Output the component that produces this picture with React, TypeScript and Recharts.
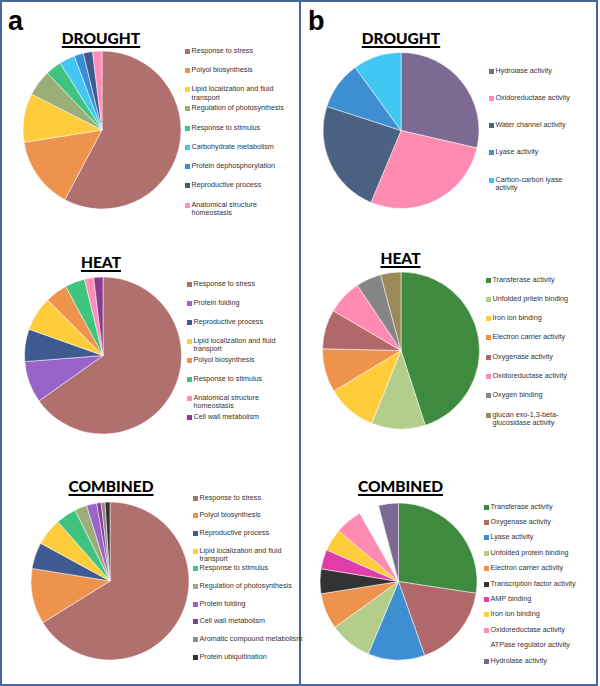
import { PieChart, Pie, Cell } from 'recharts';

// panel a: biological process
const droughtALabels = [
  'Response to stress',
  'Polyol biosynthesis',
  'Lipid localization and fluid transport',
  'Regulation of photosynthesis',
  'Response to stimulus',
  'Carbohydrate metabolism',
  'Protein dephosphorylation',
  'Reproductive process',
  'Anatomical structure homeostasis',
];
const droughtAValues = [57.8, 14.7, 10, 5.3, 3.3, 3.2, 1.9, 1.9, 1.9];

const heatALabels = [
  'Response to stress',
  'Protein folding',
  'Reproductive process',
  'Lipid localization and fluid transport',
  'Polyol biosynthesis',
  'Response to stimulus',
  'Anatomical structure homeostasis',
  'Cell wall metabolism',
];
const heatAValues = [65.3, 8.6, 6.7, 7.1, 4.6, 4.1, 1.9, 1.9];

const combinedALabels = [
  'Response to stress',
  'Polyol biosynthesis',
  'Reproductive process',
  'Lipid localization and fluid transport',
  'Response to stimulus',
  'Regulation of photosynthesis',
  'Protein folding',
  'Cell wall metabolism',
  'Aromatic compound metabolism',
  'Protein ubiquitination',
];
const combinedAValues = [66.3, 11.4, 5.4, 5.6, 4.2, 2.5, 2.1, 0.9, 0.8, 1.0];

// panel b: molecular function
const droughtBLabels = [
  'Hydrolase activity',
  'Oxidoreductase activity',
  'Water channel activity',
  'Lyase activity',
  'Carbon-carbon lyase activity',
];
const droughtBValues = [28.6, 27.7, 23.7, 10, 10];

const heatBLabels = [
  'Transferase activity',
  'Unfolded pritein binding',
  'Iron ion binding',
  'Electron carrier activity',
  'Oxygenase activity',
  'Oxidoreductase activity',
  'Oxygen binding',
  'glucan exo-1,3-beta-glucosidase activity',
];
const heatBValues = [45.1, 11.1, 10.3, 9.0, 8.1, 7.2, 5.2, 4.2];

const combinedBLabels = [
  'Transferase activity',
  'Oxygenase activity',
  'Lyase activity',
  'Unfolded protein binding',
  'Electron carrier activity',
  'Transcription factor activity',
  'AMP binding',
  'Iron ion binding',
  'Oxidoreductase activity',
  'ATPase regulator activity',
  'Hydrolase activity',
];
const combinedBValues = [27.4, 17.2, 11.7, 8.8, 7.4, 5.1, 4.0, 4.6, 5.6, 4.1, 4.1];

const colors: Record<string, string> = {
  'Response to stress': '#b0706e',
  'Polyol biosynthesis': '#ee934d',
  'Lipid localization and fluid transport': '#ffcd3c',
  'Regulation of photosynthesis': '#9cae78',
  'Response to stimulus': '#3ec47e',
  'Carbohydrate metabolism': '#42c6f2',
  'Protein dephosphorylation': '#3b8ed4',
  'Reproductive process': '#3e5a8e',
  'Anatomical structure homeostasis': '#ff8dba',
  'Protein folding': '#9a63c8',
  'Cell wall metabolism': '#8a3b8e',
  'Aromatic compound metabolism': '#8c8c8c',
  'Protein ubiquitination': '#333333',
  'Hydrolase activity': '#7c6a92',
  'Oxidoreductase activity': '#ff8bb0',
  'Water channel activity': '#4b6182',
  'Lyase activity': '#3d8fd2',
  'Carbon-carbon lyase activity': '#42c6f2',
  'Transferase activity': '#3e8a3f',
  'Unfolded pritein binding': '#b3ce8a',
  'Unfolded protein binding': '#b3ce8a',
  'Iron ion binding': '#ffcc3c',
  'Electron carrier activity': '#ee934d',
  'Oxygenase activity': '#b0686a',
  'Oxygen binding': '#858585',
  'glucan exo-1,3-beta-glucosidase activity': '#9a8a5a',
  'Transcription factor activity': '#333333',
  'AMP binding': '#e03daa',
  'ATPase regulator activity': '#ffffff',
};

const toRows = (labels: string[], values: number[]) =>
  labels.map((name, i) => ({ name, value: values[i], fill: colors[name] }));

const panels = [
  { key: 'dA', title: 'DROUGHT', labels: droughtALabels, values: droughtAValues, cx: 102, cy: 130, r: 79, tx: 101, ty: 31, lx: 185, ly: 51, pitch: 19.25, lw: 102 },
  { key: 'hA', title: 'HEAT', labels: heatALabels, values: heatAValues, cx: 103, cy: 355.5, r: 78.5, tx: 101, ty: 255, lx: 187, ly: 284, pitch: 19, lw: 102 },
  { key: 'cA', title: 'COMBINED', labels: combinedALabels, values: combinedAValues, cx: 110, cy: 581, r: 79, tx: 111, ty: 479, lx: 193, ly: 498, pitch: 17.67, lw: 105 },
  { key: 'dB', title: 'DROUGHT', labels: droughtBLabels, values: droughtBValues, cx: 401, cy: 130.5, r: 78, tx: 401, ty: 31, lx: 489, ly: 71, pitch: 27.25, lw: 86 },
  { key: 'hB', title: 'HEAT', labels: heatBLabels, values: heatBValues, cx: 401, cy: 350.5, r: 78.5, tx: 400.5, ty: 250.5, lx: 486, ly: 280, pitch: 19.3, lw: 92 },
  { key: 'cB', title: 'COMBINED', labels: combinedBLabels, values: combinedBValues, cx: 398.5, cy: 581.5, r: 78.5, tx: 400.5, ty: 479, lx: 484, ly: 507, pitch: 15.4, lw: 100 },
];

const frameColor = '#45679c';

export default function App() {
  return (
    <div style={{ position: 'absolute', left: 0, top: 0, width: 600, height: 686, background: '#fff', fontFamily: '"Liberation Sans", Arial, sans-serif' }}>
      <div style={{ position: 'absolute', left: 0, top: 0, width: 594, height: 682, border: `2px solid ${frameColor}` }} />
      <div style={{ position: 'absolute', left: 299, top: 0, width: 2, height: 686, background: frameColor }} />

      <PieChart width={600} height={686} margin={{ top: 0, right: 0, bottom: 0, left: 0 }} style={{ position: 'absolute', left: 0, top: 0 }}>
        {panels.map((p) => (
          <Pie
            key={p.key}
            data={toRows(p.labels, p.values)}
            dataKey="value"
            nameKey="name"
            cx={p.cx}
            cy={p.cy}
            outerRadius={p.r}
            startAngle={90}
            endAngle={-270}
            stroke="#ffffff"
            strokeWidth={0.5}
            isAnimationActive={false}
          >
            {p.labels.map((name) => (
              <Cell key={name} fill={colors[name]} />
            ))}
          </Pie>
        ))}
      </PieChart>

      <div style={{ position: 'absolute', left: 8, top: 8, fontSize: 27, fontWeight: 'bold', lineHeight: '27px' }}>a</div>
      <div style={{ position: 'absolute', left: 308, top: 8, fontSize: 27, fontWeight: 'bold', lineHeight: '27px' }}>b</div>

      {panels.map((p) => (
        <div
          key={p.key + '-title'}
          style={{
            position: 'absolute',
            left: p.tx - 100,
            top: p.ty,
            width: 200,
            textAlign: 'center',
            fontFamily: 'Lato, sans-serif',
            fontWeight: 900,
            fontSize: 15.5,
            lineHeight: '15px',
            color: '#000',
            textDecoration: 'underline',
            textDecorationThickness: 1.5,
            textUnderlineOffset: 2,
          }}
        >
          {p.title}
        </div>
      ))}

      {panels.map((p) =>
        p.labels.map((name, i) => (
          <div
            key={p.key + name}
            style={{ position: 'absolute', left: p.lx, top: p.ly + i * p.pitch - 4.5, display: 'flex', alignItems: 'flex-start' }}
          >
            <div style={{ width: 5, height: 5, marginTop: 2, marginRight: 1.5, background: colors[name], flexShrink: 0 }} />
            <div style={{ width: p.lw, fontSize: 7.2, lineHeight: '8.6px', color: '#333' }}>{name}</div>
          </div>
        ))
      )}
    </div>
  );
}
